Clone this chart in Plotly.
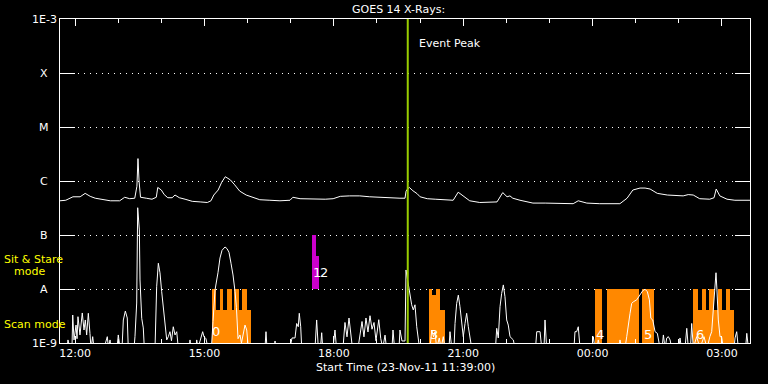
import numpy as np
import pandas as pd
import plotly.graph_objects as go

START = pd.Timestamp("2011-11-23 11:39:00")
END = pd.Timestamp("2011-11-24 03:39:00")

# GOES long channel (1-8 A): minutes after start, flux W/m^2
long_min = [0, 8, 18, 28, 35, 42, 49, 60, 70, 83, 90, 97, 104, 107, 108.5, 110, 112, 120, 128, 134,
            136, 141, 145, 150, 156, 160, 166, 174, 184, 195, 205, 210, 214, 220, 225, 230, 237, 243,
            250, 259, 267, 278, 292, 306, 320, 324, 334, 355, 369, 380, 390, 403, 417, 431, 452, 473,
            480, 481.5, 483, 486, 491, 497, 501, 511, 522, 536, 547, 554, 561, 570, 584, 598, 608, 616,
            622, 626, 630, 640, 658, 675, 696, 714, 721, 733, 751, 765, 779, 789, 797, 807, 814, 821,
            831, 845, 867, 874, 881, 890, 904, 910, 913, 918, 928, 939, 953, 960]
long_flux = [4.3e-7, 4.4e-7, 5.1e-7, 5.1e-7, 5.9e-7, 5.2e-7, 4.8e-7, 4.5e-7, 4.3e-7, 4.3e-7, 5.0e-7,
             4.7e-7, 4.8e-7, 8.0e-7, 2.6e-6, 1.0e-6, 5.0e-7, 4.8e-7, 4.6e-7, 5.0e-7, 7.6e-7, 6.8e-7,
             5.6e-7, 4.9e-7, 4.9e-7, 5.5e-7, 4.9e-7, 4.6e-7, 4.2e-7, 4.1e-7, 4.0e-7, 4.3e-7, 5.5e-7,
             6.8e-7, 9.5e-7, 1.2e-6, 1.05e-6, 8.5e-7, 6.5e-7, 5.5e-7, 5.0e-7, 4.5e-7, 4.4e-7, 4.3e-7,
             4.4e-7, 5.0e-7, 4.7e-7, 4.6e-7, 4.6e-7, 4.7e-7, 5.2e-7, 5.3e-7, 5.3e-7, 5.1e-7, 4.9e-7,
             4.8e-7, 4.8e-7, 6.5e-7, 7.0e-7, 7.6e-7, 6.6e-7, 5.8e-7, 5.1e-7, 4.7e-7, 4.6e-7, 4.5e-7,
             4.4e-7, 6.2e-7, 5.3e-7, 4.3e-7, 4.0e-7, 4.0e-7, 4.1e-7, 6.1e-7, 5.1e-7, 5.3e-7, 4.8e-7,
             4.4e-7, 3.9e-7, 3.9e-7, 3.8e-7, 3.8e-7, 4.3e-7, 3.9e-7, 3.8e-7, 3.75e-7, 3.8e-7, 4.8e-7,
             6.8e-7, 7.4e-7, 7.4e-7, 7.1e-7, 5.9e-7, 5.5e-7, 5.3e-7, 5.6e-7, 5.5e-7, 4.7e-7, 4.6e-7,
             4.9e-7, 7.1e-7, 5.3e-7, 4.6e-7, 4.4e-7, 4.4e-7, 4.4e-7]

# GOES short channel (0.5-4 A): minutes after start, flux W/m^2 (values < 1E-9 fall off the plot)
short_min = [0, 9.7, 11.1, 13.9, 16.7, 17.7, 19.5, 22.3, 23.7, 25.0, 27.8, 31.0, 33.4, 35.2, 37.1, 39.4,
             41.7, 43.1, 45.5, 47.3, 61.2, 65.8, 67.5, 69.6, 71.0, 79.3, 81.1, 83.5, 86.3, 88.1, 90.9,
             93.6, 95.0, 103.0, 104.3, 106.7, 108.1, 110.4, 111.3, 113.7, 115.9, 117.3, 132.2, 134.5,
             136.8, 139.1, 141.5, 143.7, 146.1, 148.5, 150.7, 153.0, 155.1, 157.6, 160.0, 162.4, 164.6,
             179.5, 180.9, 182.3, 189.2, 190.2, 192.0, 198.5, 200.3, 203.1, 205.9, 211.1, 212.9, 215.7,
             219.8, 222.6, 225.4, 229.6, 232.3, 235.1, 237.9, 240.7, 243.5, 245.5, 247.7, 250.4, 252.5,
             254.6, 257.4, 259.8, 262.0, 285.2, 286.6, 288.0, 297.7, 299.2, 300.5, 320.0, 322.8, 327.0,
             329.3, 331.5, 332.9, 334.9, 336.3, 354.8, 357.1, 359.4, 362.4, 364.1, 365.5, 379.8, 382.6,
             384.7, 393.7, 396.5, 399.3, 402.1, 404.9, 406.9, 414.6, 417.4, 420.2, 422.9, 425.7, 428.5,
             431.3, 434.1, 436.9, 439.6, 443.5, 446.3, 449.1, 452.2, 454.3, 461.9, 463.3, 465.4, 471.7,
             473.0, 475.8, 480.0, 481.4, 483.5, 487.0, 489.3, 491.5, 493.9, 496.3, 498.5, 500.2, 514.8,
             517.2, 519.7, 521.7, 524.1, 527.7, 530.1, 533.3, 535.6, 541.2, 542.6, 545.0, 548.2, 549.6,
             551.9, 554.2, 556.5, 558.9, 561.1, 563.5, 565.8, 568.1, 570.4, 572.8, 605.9, 607.6, 609.8,
             612.2, 614.5, 616.8, 619.1, 621.5, 623.7, 626.1, 630.7, 633.1, 661.6, 663.3, 667.9, 670.2,
             673.4, 674.8, 677.1, 715.1, 716.5, 718.8, 721.1, 723.5, 740.2, 742.0, 744.3, 747.1, 748.9,
             751.3, 777.7, 779.1, 781.2, 786.1, 788.5, 790.7, 793.1, 795.4, 797.7, 802.4, 807.0, 810.8,
             814.0, 817.2, 820.0, 822.0, 824.7, 827.9, 831.1, 834.8, 837.6, 839.5, 841.8, 844.2, 846.4,
             848.8, 851.1, 861.3, 862.6, 864.7, 869.6, 872.0, 874.2, 877.2, 878.9, 881.1, 885.8, 890.4,
             896.0, 900.2, 904.2, 906.7, 908.9, 911.3, 912.7, 914.0, 915.9, 918.3, 920.5, 922.9, 937.8,
             939.2, 941.5, 943.8, 953.9, 955.5, 957.8, 960.0]
short_flux = [8e-10, 8e-10, 1.14e-9, 8e-10, 8e-10, 3.3e-9, 1.14e-9, 2.15e-9, 1.2e-9, 3.07e-9, 1.41e-9,
              3.6e-9, 1.74e-9, 2.67e-9, 1.41e-9, 3.55e-9, 1.5e-9, 8e-10, 1.31e-9, 8e-10, 8e-10, 1.31e-9,
              8e-10, 1.14e-9, 8e-10, 8e-10, 1.41e-9, 8e-10, 8e-10, 2.67e-9, 3.9e-9, 2.9e-9, 8e-10, 8e-10,
              1.31e-9, 5.5e-9, 3.2e-7, 1.24e-7, 1.47e-8, 2.87e-9, 1.9e-9, 8e-10, 8e-10, 1.1e-8, 3.0e-8,
              2.0e-8, 8.9e-9, 4.7e-9, 2.0e-9, 1.14e-9, 1.31e-9, 1.62e-9, 1.1e-9, 2.0e-9, 1.41e-9, 1.62e-9,
              8e-10, 8e-10, 1.14e-9, 8e-10, 8e-10, 1.14e-9, 8e-10, 1.62e-9, 1.31e-9, 1.2e-9, 8e-10,
              1.0e-9, 2.5e-9, 9.6e-9, 2.0e-8, 3.75e-8, 5.2e-8, 6.0e-8, 5.6e-8, 4.8e-8, 3.0e-8, 1.82e-8,
              9.0e-9, 4.5e-9, 1.2e-9, 1.41e-9, 1.0e-9, 1.41e-9, 2.15e-9, 1.74e-9, 8e-10, 8e-10, 1.62e-9,
              8e-10, 8e-10, 1.09e-9, 8e-10, 8e-10, 1.24e-9, 1.24e-9, 2.3e-9, 2.0e-9, 3.55e-9, 2.0e-9,
              8e-10, 8e-10, 2.67e-9, 8e-10, 8e-10, 1.55e-9, 8e-10, 8e-10, 1.74e-9, 8e-10, 8e-10, 2.4e-9,
              1.3e-9, 2.9e-9, 1.5e-9, 8e-10, 8e-10, 1.5e-9, 2.5e-9, 1.3e-9, 2.9e-9, 1.6e-9, 3.2e-9,
              1.8e-9, 2.4e-9, 1.1e-9, 2.7e-9, 1.2e-9, 8e-10, 1.4e-9, 8e-10, 8e-10, 1.74e-9, 8e-10, 8e-10,
              1.74e-9, 1.09e-9, 1.09e-9, 2.25e-8, 1.5e-8, 7.2e-9, 5.1e-9, 4.1e-9, 5.1e-9, 2.0e-9,
              1.14e-9, 8e-10, 8e-10, 1.74e-9, 1.3e-9, 1.6e-9, 8e-10, 1.24e-9, 8e-10, 1.31e-9, 8e-10,
              8e-10, 1.62e-9, 8e-10, 8e-10, 2.3e-9, 5.4e-9, 7.7e-9, 4.7e-9, 2.67e-9, 1.31e-9, 2.3e-9,
              3.55e-9, 2.0e-9, 1.31e-9, 8e-10, 8e-10, 1.87e-9, 1.24e-9, 4.7e-9, 8.3e-9, 1.19e-8, 7.2e-9,
              2.67e-9, 2.15e-9, 1.31e-9, 1.14e-9, 8e-10, 8e-10, 1.62e-9, 1.62e-9, 8e-10, 8e-10, 2.67e-9,
              8e-10, 8e-10, 1.62e-9, 1.62e-9, 2.0e-9, 8e-10, 8e-10, 1.31e-9, 8e-10, 8e-10, 1.14e-9, 8e-10,
              8e-10, 1.14e-9, 8e-10, 8e-10, 1.31e-9, 2.3e-9, 3.55e-9, 5.4e-9, 5.8e-9, 6.3e-9, 7.7e-9,
              9.3e-9, 9.9e-9, 8.9e-9, 6.3e-9, 2.87e-9, 2.67e-9, 1.62e-9, 1.51e-9, 8e-10, 8e-10, 1.41e-9,
              8e-10, 1.24e-9, 1.31e-9, 1.14e-9, 8e-10, 8e-10, 1.24e-9, 8e-10, 8e-10, 1.87e-9, 8e-10,
              8e-10, 2.3e-9, 8e-10, 1.31e-9, 8e-10, 1.31e-9, 8e-10, 1.31e-9, 1.62e-9, 4.1e-9, 1.29e-8,
              2.0e-8, 9.6e-9, 2.67e-9, 1.31e-9, 1.3e-9, 8e-10, 8e-10, 1.24e-9, 1.62e-9, 8e-10, 8e-10,
              1.51e-9, 8e-10, 8e-10]

# Scan-mode intervals (orange)
scan_start = ["2011-11-23 15:10:00", "2011-11-23 15:10:00", "2011-11-23 15:21:00", "2011-11-23 15:31:00",
              "2011-11-23 15:41:30", "2011-11-23 15:52:00",
              "2011-11-23 20:12:30", "2011-11-23 20:17:00", "2011-11-23 20:21:40", "2011-11-23 20:27:40",
              "2011-11-24 00:03:30", "2011-11-24 00:20:00", "2011-11-24 01:09:10",
              "2011-11-24 02:20:00", "2011-11-24 02:20:00", "2011-11-24 02:32:40", "2011-11-24 02:42:30",
              "2011-11-24 02:54:00", "2011-11-24 03:05:40"]
scan_end = ["2011-11-23 16:04:40", "2011-11-23 15:15:40", "2011-11-23 15:26:10", "2011-11-23 15:38:00",
            "2011-11-23 15:48:00", "2011-11-23 15:58:50",
            "2011-11-23 20:17:00", "2011-11-23 20:21:40", "2011-11-23 20:27:40", "2011-11-23 20:34:40",
            "2011-11-24 00:13:00", "2011-11-24 01:04:00", "2011-11-24 01:25:20",
            "2011-11-24 03:17:10", "2011-11-24 02:26:40", "2011-11-24 02:38:10", "2011-11-24 02:48:50",
            "2011-11-24 03:00:00", "2011-11-24 03:11:10"]
scan_top = [4.1e-9, 1e-8, 1e-8, 1e-8, 1e-8, 1e-8,
            1e-8, 7.7e-9, 1e-8, 4.1e-9,
            1e-8, 1e-8, 1e-8,
            4.1e-9, 1e-8, 1e-8, 1e-8, 1e-8, 1e-8]

# Sit & Stare intervals (magenta), from the A level upward
stare_start = ["2011-11-23 17:29:40", "2011-11-23 17:34:40"]
stare_end = ["2011-11-23 17:34:40", "2011-11-23 17:39:30"]
stare_top = [1e-7, 4.1e-8]
stare_base = 1e-8

# Pointing labels
label_text = ["0", "1", "2", "3", "4", "5", "6"]
label_time = ["2011-11-23 15:16:00", "2011-11-23 17:36:00", "2011-11-23 17:46:00", "2011-11-23 20:19:00",
              "2011-11-24 00:10:00", "2011-11-24 01:17:00", "2011-11-24 02:29:00"]
label_flux = [1.6e-9, 2.05e-8, 2.05e-8, 1.45e-9, 1.45e-9, 1.45e-9, 1.45e-9]

ytick_vals = [1e-9, 1e-8, 1e-7, 1e-6, 1e-5, 1e-4, 1e-3]
ytick_text = ["1E-9", "A", "B", "C", "M", "X", "1E-3"]

event_time = "2011-11-23 19:42:50"

FONT = "DejaVu Sans"
FS = 11
ORANGE = "#ff8800"
MAGENTA = "#cc00cc"
YELLOW = "#ffff00"
GREEN = "#99cc00"

long_t = START + pd.to_timedelta(long_min, unit="m")
short_t = START + pd.to_timedelta(short_min, unit="m")

fig = go.Figure()

s0 = pd.to_datetime(scan_start, format="%Y-%m-%d %H:%M:%S")
s1 = pd.to_datetime(scan_end, format="%Y-%m-%d %H:%M:%S")
fig.add_trace(go.Bar(
    x=list(s0 + (s1 - s0) / 2), y=np.array(scan_top) - 1e-9, base=1e-9,
    width=list((s1 - s0).total_seconds() * 1000),
    marker=dict(color=ORANGE, line=dict(width=0)), opacity=1, hoverinfo="skip"))

m0 = pd.to_datetime(stare_start, format="%Y-%m-%d %H:%M:%S")
m1 = pd.to_datetime(stare_end, format="%Y-%m-%d %H:%M:%S")
fig.add_trace(go.Bar(
    x=list(m0 + (m1 - m0) / 2), y=np.array(stare_top) - stare_base, base=stare_base,
    width=list((m1 - m0).total_seconds() * 1000),
    marker=dict(color=MAGENTA, line=dict(width=0)), opacity=1, hoverinfo="skip"))

fig.add_trace(go.Scatter(x=list(short_t), y=short_flux, mode="lines",
                         line=dict(color="white", width=1)))
fig.add_trace(go.Scatter(x=list(long_t), y=long_flux, mode="lines",
                         line=dict(color="white", width=1)))

fig.add_shape(type="line", x0=event_time, x1=event_time, y0=0, y1=1, yref="paper",
              line=dict(color=GREEN, width=2), layer="above")

ann = []
for txt, t, f in zip(label_text, label_time, label_flux):
    ann.append(dict(x=t, y=np.log10(f), xref="x", yref="y", text=txt, showarrow=False,
                    font=dict(color="white", size=13, family=FONT)))
for v, txt in zip(ytick_vals, ytick_text):
    ann.append(dict(x=-16 / 690, y=np.log10(v), xref="paper", yref="y", text=txt, showarrow=False,
                    xanchor="center", yanchor="middle", font=dict(color="white", size=FS, family=FONT)))
ann += [
    dict(x=338 / 690, y=(343 - 9) / 324, xref="paper", yref="paper", text="GOES 14 X-Rays:",
         showarrow=False, yanchor="middle", font=dict(color="white", size=FS, family=FONT)),
    dict(x=event_time, xshift=9, y=(343 - 43) / 324, xref="x", yref="paper", text="Event Peak",
         xanchor="left", yanchor="middle", showarrow=False, font=dict(color="white", size=FS, family=FONT)),
    dict(x=0.5, y=(343 - 368) / 324, xref="paper", yref="paper",
         text="Start Time (23-Nov-11 11:39:00)", showarrow=False, yanchor="middle",
         font=dict(color="white", size=FS, family=FONT)),
    dict(x=-58 / 690, y=(343 - 259) / 324, xref="paper", yref="paper", text="Sit & Stare",
         xanchor="left", yanchor="middle", showarrow=False, font=dict(color=YELLOW, size=FS, family=FONT)),
    dict(x=-48 / 690, y=(343 - 271) / 324, xref="paper", yref="paper", text="mode",
         xanchor="left", yanchor="middle", showarrow=False, font=dict(color=YELLOW, size=FS, family=FONT)),
    dict(x=-58 / 690, y=(343 - 324) / 324, xref="paper", yref="paper", text="Scan mode",
         xanchor="left", yanchor="middle", showarrow=False, font=dict(color=YELLOW, size=FS, family=FONT)),
]

fig.update_layout(
    width=768, height=384,
    margin=dict(l=60, r=18, t=19, b=41, autoexpand=False),
    paper_bgcolor="black", plot_bgcolor="black",
    showlegend=False, barmode="overlay", bargap=0,
    annotations=ann,
    font=dict(family=FONT, color="white", size=FS),
    xaxis=dict(type="date", range=[START, END], tick0="2011-11-23 12:00", dtick=3 * 3600000,
               tickformat="%H:%M", ticks="inside", ticklen=7, tickcolor="white",
               showline=True, linecolor="white", linewidth=1, mirror="ticks", showgrid=False,
               zeroline=False, tickfont=dict(color="white", size=FS, family=FONT),
               minor=dict(dtick=3600000, tick0="2011-11-23 12:00", ticks="inside", ticklen=4,
                          tickcolor="white", showgrid=False)),
    yaxis=dict(type="log", range=[-9, -3], tickvals=ytick_vals, showticklabels=False,
               ticks="inside", ticklen=15, tickcolor="white", showline=True, linecolor="white",
               linewidth=1, mirror="ticks", showgrid=True, gridcolor="white", gridwidth=1,
               griddash="1px,5px", zeroline=False),
)

fig.write_html("out.html", config={"displayModeBar": False},
               post_script="document.body.style.margin='0px';document.body.style.background='black';")
